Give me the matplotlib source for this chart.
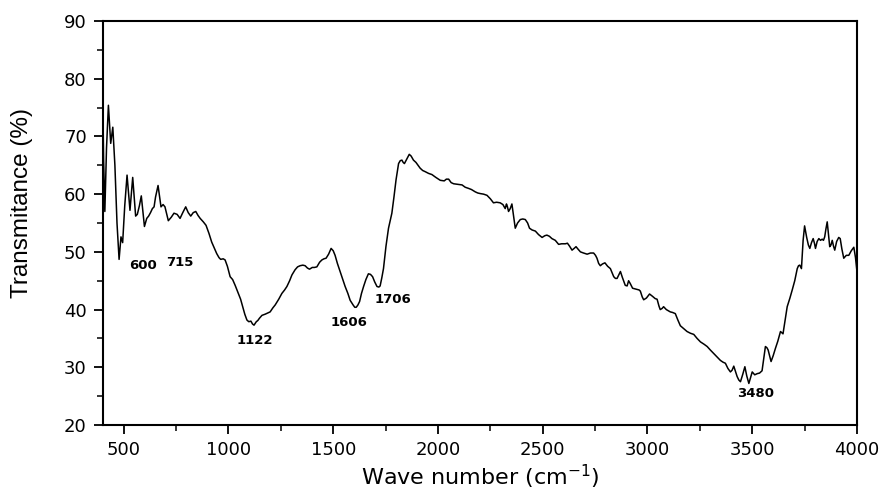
import matplotlib
matplotlib.use("Agg")
import matplotlib.pyplot as plt
from matplotlib.ticker import MultipleLocator

plt.rcParams['font.family'] = ['DejaVu Sans']

# FTIR spectrum
wavenumber = [
    400, 404, 410, 418, 427, 438, 448, 458, 468, 478, 487, 495, 505, 516, 530, 543,
    557, 565, 575, 584, 599, 610, 619, 628, 637, 645, 652, 664, 678, 688, 697, 713,
    727, 740, 755, 769, 782, 796, 808, 820, 832, 844, 855, 865, 880, 893, 907, 920,
    933, 944, 955, 963, 975, 984, 995, 1008, 1020, 1032, 1047, 1058, 1068, 1078, 1088,
    1097, 1107, 1115, 1122, 1133, 1140, 1148, 1160, 1175, 1187, 1199, 1212, 1223, 1240,
    1255, 1268, 1279, 1292, 1303, 1318, 1330, 1342, 1355, 1366, 1377, 1387, 1400, 1410,
    1422, 1435, 1446, 1456, 1466, 1478, 1490, 1500, 1509, 1520, 1533, 1545, 1557, 1570,
    1581, 1595, 1603, 1610, 1618, 1626, 1635, 1645, 1656, 1668, 1678, 1688, 1698, 1709,
    1718, 1724, 1732, 1740, 1752, 1764, 1772, 1780, 1790, 1800, 1812, 1820, 1828, 1834,
    1840, 1850, 1863, 1872, 1883, 1895, 1905, 1915, 1927, 1939, 1955, 1971, 1990, 2011,
    2030, 2040, 2051, 2063, 2075, 2095, 2115, 2130, 2146, 2160, 2178, 2190, 2202, 2218,
    2234, 2250, 2265, 2280, 2297, 2310, 2321, 2327, 2331, 2337, 2345, 2353, 2360, 2369,
    2380, 2393, 2405, 2417, 2428, 2437, 2449, 2465, 2480, 2497, 2510, 2520, 2532, 2544,
    2560, 2576, 2590, 2608, 2618, 2628, 2640, 2650, 2659, 2668, 2680, 2695, 2712, 2728,
    2743, 2752, 2759, 2767, 2775, 2785, 2797, 2810, 2823, 2832, 2839, 2847, 2855, 2863,
    2871, 2880, 2894, 2903, 2910, 2918, 2929, 2940, 2950, 2960, 2966, 2975, 2982, 2995,
    3010, 3024, 3037, 3046, 3055, 3061, 3070, 3077, 3090, 3100, 3109, 3120, 3133, 3145,
    3157, 3170, 3189, 3205, 3221, 3237, 3253, 3270, 3285, 3300, 3316, 3332, 3348, 3360,
    3372, 3384, 3396, 3404, 3412, 3420, 3428, 3436, 3444, 3455, 3465, 3474, 3484, 3492,
    3500, 3512, 3524, 3535, 3547, 3555, 3563, 3570, 3576, 3583, 3590, 3600, 3611, 3622,
    3635, 3641, 3647, 3657, 3667, 3680, 3691, 3703, 3715, 3721, 3727, 3735, 3743, 3750,
    3760, 3768, 3775, 3783, 3791, 3797, 3802, 3810, 3818, 3826, 3834, 3840, 3846, 3852,
    3858, 3864, 3870, 3876, 3882, 3888, 3894, 3903, 3913, 3920, 3928, 3937, 3949, 3961,
    3973, 3985, 3993, 4000,
]
transmittance = [
    77, 66, 57, 68, 75.4, 68.8, 71.6, 65, 55, 48.7, 52.6, 51.6, 58, 63.3, 57.2, 62.9,
    56.2, 56.5, 58, 59.7, 54.4, 55.8, 56.2, 56.8, 57.5, 57.8, 59.5, 61.5, 57.8, 58.2, 57.8, 55.4,
    56, 56.7, 56.5, 55.8, 56.8, 57.8, 56.8, 56.2, 56.8, 57.0, 56.3, 55.8, 55.2, 54.6, 53.2, 51.7,
    50.6, 49.7, 49, 48.7, 48.8, 48.6, 47.5, 45.7, 45.2, 44.2, 42.8, 41.8, 40.5, 39.2, 38.2,
    37.9, 38.0, 37.5, 37.3, 37.9, 38.1, 38.5, 39.0, 39.2, 39.4, 39.6, 40.3, 40.8, 41.8,
    42.8, 43.4, 44.0, 45.0, 46.0, 46.9, 47.4, 47.6, 47.7, 47.6, 47.2, 47.0, 47.3, 47.3,
    47.4, 48.2, 48.6, 48.8, 48.9, 49.6, 50.6, 50.2, 49.4, 48.0, 46.6, 45.3, 44.0, 42.8,
    41.6, 40.8, 40.4, 40.4, 40.8, 41.4, 42.8, 44.0, 45.2, 46.2, 46.1, 45.7, 44.8, 44.0,
    43.9, 44.1, 45.5, 47.1, 51, 54.1, 55.4, 56.7, 59.5, 62.5, 65.3, 65.8, 65.9, 65.5,
    65.3, 66.0, 66.9, 66.6, 65.9, 65.5, 65.0, 64.5, 64.1, 63.9, 63.6, 63.4, 62.9, 62.4,
    62.3, 62.6, 62.6, 62.0, 61.8, 61.7, 61.6, 61.2, 61.0, 60.8, 60.4, 60.2, 60.1, 60.0,
    59.8, 59.2, 58.5, 58.6, 58.5, 58.2, 57.5, 58.3, 57.9, 57.0, 57.5, 58.3, 56.5, 54.1,
    55.0, 55.6, 55.7, 55.6, 55.0, 54.1, 53.8, 53.6, 53.0, 52.5, 52.8, 52.9, 52.7, 52.3,
    52.0, 51.3, 51.4, 51.4, 51.5, 51.0, 50.3, 50.6, 50.9, 50.5, 50.0, 49.8, 49.6, 49.8,
    49.8, 49.4, 48.9, 48.0, 47.6, 47.9, 48.1, 47.5, 47.1, 46.3, 45.7, 45.4, 45.4, 46.0,
    46.6, 45.6, 44.2, 44.1, 45.0, 44.5, 43.7, 43.6, 43.5, 43.4, 43.2, 42.2, 41.7, 42.0,
    42.7, 42.3, 41.9, 41.8, 40.6, 40.0, 40.2, 40.5, 40.0, 39.8, 39.6, 39.5, 39.3, 38.2,
    37.2, 36.8, 36.2, 35.9, 35.7, 35.0, 34.4, 34.0, 33.6, 33.0, 32.4, 31.8, 31.2, 30.9,
    30.7, 29.8, 29.2, 29.5, 30.2, 29.3, 28.4, 27.8, 27.5, 28.8, 30.1, 28.5, 27.2, 28.2,
    29.2, 28.7, 28.9, 29.0, 29.4, 31.5, 33.6, 33.4, 33.0, 32.0, 31.0, 32.0, 33.3, 34.5,
    36.2, 36.0, 35.8, 38.2, 40.5, 42.0, 43.4, 45.0, 47.1, 47.6, 47.7, 47.1, 52, 54.5,
    52.5, 51.2, 50.6, 51.6, 52.3, 51.5, 50.6, 51.8, 52.3, 52.0, 52.2, 52.0, 52.6, 54,
    55.2, 53, 50.9, 51.2, 52.0, 51, 50.3, 51.8, 52.5, 52.3, 50.5, 48.9, 49.4, 49.4,
    50.2, 50.8, 49, 46.6,
]

# peak labels and where their text sits
peak_labels = ["600", "715", "1122", "1606", "1706", "3480"]
label_x = [592, 769, 1127, 1577, 1787, 3516]
label_y = [47.7, 48.2, 34.7, 37.7, 41.8, 25.4]

fig = plt.figure(figsize=(8.95, 4.91), dpi=100)
ax = fig.add_axes([0.1148, 0.1344, 0.8427, 0.8228])

ax.plot(wavenumber, transmittance, color='black', lw=1.1)

for txt, xx, yy in zip(peak_labels, label_x, label_y):
    ax.text(xx, yy, txt, ha='center', va='center', fontsize=9.5, fontweight='bold')

ax.set_xlim(400, 4000)
ax.set_ylim(20, 90)
ax.xaxis.set_major_locator(MultipleLocator(500))
ax.xaxis.set_minor_locator(MultipleLocator(250))
ax.yaxis.set_major_locator(MultipleLocator(10))
ax.yaxis.set_minor_locator(MultipleLocator(5))
ax.tick_params(which='major', direction='out', length=6.5, width=1.3, labelsize=13, pad=5)
ax.tick_params(which='minor', direction='out', length=4, width=1.1)
for s in ax.spines.values():
    s.set_linewidth(1.5)

ax.set_xlabel('Wave number (cm$^{-1}$)', fontsize=16)
ax.xaxis.set_label_coords(0.5, -0.093)
ax.set_ylabel('Transmitance (%)', fontsize=17.5, family='Liberation Sans')
ax.yaxis.set_label_coords(-0.092, 0.55)

fig.savefig('out.png', dpi=100)
